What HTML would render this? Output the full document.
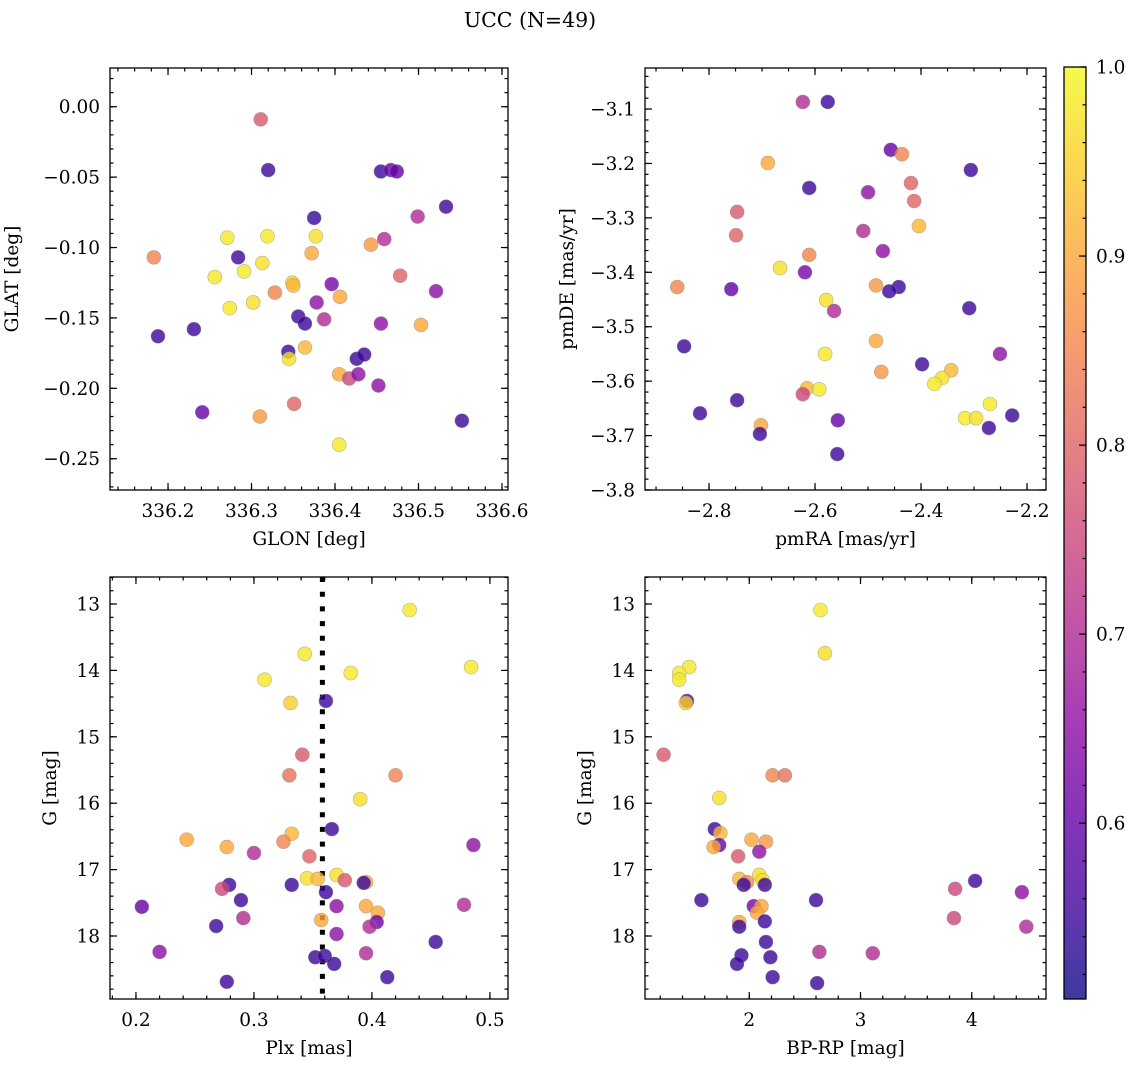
<!DOCTYPE html>
<html><head><meta charset="utf-8"><style>
html,body{margin:0;padding:0;background:#fff;}
svg text{font-family:"DejaVu Serif","Liberation Serif",serif;fill:#000;}
</style></head><body>
<svg id="fig" width="1136" height="1067" viewBox="0 0 1136 1067" xmlns="http://www.w3.org/2000/svg">
<defs>
<linearGradient id="plasma" x1="0" y1="1" x2="0" y2="0"></linearGradient>
</defs>
<text x="530" y="27" font-size="20.5" text-anchor="middle">UCC (N=49)</text>
</svg>
<script>
// ---------- data ----------
const p1Glon=[336.311,336.320,336.455,336.467,336.474,336.533,336.375,336.499,336.183,336.271,336.319,336.284,336.313,336.372,336.377,336.443,336.459,336.256,336.291,336.349,336.350,336.396,336.478,336.521,336.274,336.302,336.328,336.378,336.406,336.356,336.364,336.387,336.455,336.503,336.188,336.231,336.344,336.345,336.364,336.426,336.435,336.405,336.417,336.428,336.452,336.351,336.241,336.310,336.405,336.552];
const p1Glat=[-0.009,-0.045,-0.046,-0.045,-0.046,-0.071,-0.079,-0.078,-0.107,-0.093,-0.092,-0.107,-0.111,-0.104,-0.092,-0.098,-0.094,-0.121,-0.117,-0.125,-0.127,-0.126,-0.120,-0.131,-0.143,-0.139,-0.132,-0.139,-0.135,-0.149,-0.154,-0.151,-0.154,-0.155,-0.163,-0.158,-0.174,-0.179,-0.171,-0.179,-0.176,-0.190,-0.193,-0.190,-0.198,-0.211,-0.217,-0.220,-0.240,-0.223];
const p1Prob=[0.78,0.55,0.55,0.6,0.6,0.55,0.55,0.7,0.85,0.98,0.98,0.55,0.97,0.9,0.97,0.88,0.7,0.98,0.98,0.95,0.92,0.62,0.8,0.65,0.98,0.97,0.85,0.65,0.9,0.55,0.55,0.7,0.65,0.9,0.55,0.55,0.55,0.97,0.92,0.55,0.55,0.9,0.75,0.65,0.65,0.8,0.6,0.88,0.98,0.55];

const p2PmRA=[-2.623,-2.576,-2.457,-2.436,-2.689,-2.419,-2.306,-2.611,-2.500,-2.413,-2.747,-2.404,-2.509,-2.749,-2.611,-2.472,-2.666,-2.619,-2.860,-2.758,-2.485,-2.442,-2.460,-2.579,-2.564,-2.309,-2.847,-2.485,-2.581,-2.251,-2.398,-2.475,-2.343,-2.360,-2.375,-2.615,-2.592,-2.623,-2.817,-2.747,-2.270,-2.228,-2.557,-2.317,-2.296,-2.702,-2.704,-2.272,-2.558];
const p2PmDE=[-3.087,-3.087,-3.175,-3.183,-3.199,-3.236,-3.212,-3.245,-3.253,-3.269,-3.289,-3.315,-3.324,-3.332,-3.368,-3.361,-3.392,-3.400,-3.427,-3.431,-3.424,-3.427,-3.435,-3.451,-3.471,-3.466,-3.536,-3.526,-3.550,-3.550,-3.569,-3.583,-3.580,-3.594,-3.605,-3.613,-3.615,-3.624,-3.659,-3.635,-3.642,-3.663,-3.672,-3.668,-3.668,-3.681,-3.697,-3.686,-3.734];
const p2Prob=[0.7,0.55,0.6,0.85,0.9,0.8,0.55,0.55,0.65,0.8,0.78,0.92,0.7,0.8,0.85,0.65,0.97,0.62,0.85,0.6,0.88,0.55,0.55,0.97,0.7,0.55,0.55,0.9,0.98,0.65,0.55,0.88,0.92,0.97,0.98,0.92,0.98,0.75,0.55,0.55,0.98,0.55,0.6,0.98,0.97,0.9,0.55,0.55,0.55];

const p3Plx=[0.432,0.343,0.484,0.309,0.382,0.331,0.361,0.341,0.330,0.420,0.390,0.366,0.243,0.277,0.332,0.300,0.325,0.347,0.486,0.370,0.345,0.354,0.377,0.395,0.393,0.279,0.332,0.273,0.361,0.205,0.289,0.370,0.395,0.405,0.478,0.291,0.357,0.404,0.398,0.268,0.370,0.454,0.220,0.395,0.352,0.360,0.368,0.413,0.277];
const p3G=[13.09,13.75,13.95,14.14,14.04,14.49,14.46,15.27,15.58,15.58,15.94,16.39,16.55,16.66,16.46,16.75,16.58,16.80,16.63,17.08,17.13,17.14,17.16,17.19,17.20,17.23,17.23,17.29,17.34,17.56,17.46,17.55,17.55,17.65,17.53,17.73,17.76,17.79,17.86,17.85,17.97,18.09,18.24,18.26,18.32,18.30,18.42,18.62,18.69];
const p3Prob=[0.98,0.98,0.98,0.98,0.98,0.95,0.55,0.78,0.82,0.85,0.97,0.55,0.9,0.9,0.92,0.7,0.85,0.8,0.65,0.97,0.97,0.92,0.78,0.9,0.55,0.55,0.55,0.75,0.55,0.6,0.55,0.65,0.9,0.9,0.7,0.7,0.9,0.6,0.7,0.55,0.65,0.55,0.65,0.7,0.55,0.55,0.55,0.55,0.55];
const plxLine=0.358;

const p4BpRp=[2.64,2.68,1.46,1.37,1.37,1.44,1.43,1.23,2.21,2.32,1.73,1.69,1.74,1.73,1.68,2.02,2.15,2.09,1.90,1.91,2.09,2.12,1.98,1.95,2.14,4.03,3.85,4.45,1.57,2.04,2.11,2.07,2.60,1.91,2.14,3.84,4.49,1.91,2.15,2.63,3.11,1.93,2.19,1.89,2.21,2.61];
const p4G=[13.09,13.74,13.95,14.04,14.14,14.46,14.49,15.27,15.58,15.58,15.92,16.39,16.45,16.63,16.66,16.55,16.58,16.73,16.80,17.14,17.08,17.16,17.19,17.23,17.23,17.17,17.29,17.34,17.46,17.55,17.55,17.65,17.46,17.79,17.78,17.73,17.86,17.86,18.09,18.24,18.26,18.29,18.32,18.42,18.62,18.71];
const p4Prob=[0.98,0.97,0.98,0.98,0.98,0.55,0.95,0.78,0.85,0.82,0.97,0.55,0.92,0.6,0.9,0.9,0.88,0.65,0.78,0.92,0.97,0.97,0.85,0.55,0.55,0.55,0.75,0.65,0.55,0.62,0.9,0.9,0.55,0.9,0.55,0.75,0.7,0.55,0.55,0.7,0.7,0.55,0.55,0.55,0.55,0.55];

const cbarTicks=[0.6,0.7,0.8,0.9,1.0];
const cbarMin=0.507, cbarMax=1.0;

// ---------- helpers ----------
const NS='http://www.w3.org/2000/svg';
const svg=document.getElementById('fig');
const FS=18.5;
function mk(tag,attrs,parent){const e=document.createElementNS(NS,tag);for(const k in attrs)e.setAttribute(k,attrs[k]);(parent||svg).appendChild(e);return e;}
const stops=[[0,'#0d0887'],[0.1,'#41049d'],[0.2,'#6a00a8'],[0.3,'#8f0da4'],[0.4,'#b12a90'],[0.5,'#cc4778'],[0.6,'#e16462'],[0.7,'#f2844b'],[0.8,'#fca636'],[0.9,'#fcce25'],[1,'#f0f921']];
function hex(h){return [1,3,5].map(i=>parseInt(h.substr(i,2),16));}
function plasma(t){t=Math.max(0,Math.min(1,t));for(let i=1;i<stops.length;i++){if(t<=stops[i][0]){const a=stops[i-1],b=stops[i];const f=(t-a[0])/(b[0]-a[0]);const ca=hex(a[1]),cb=hex(b[1]);return 'rgb('+ca.map((v,j)=>Math.round(v+(cb[j]-v)*f)).join(',')+')';}}return stops[10][1];}
function cmap(p){return plasma((p-cbarMin)/(cbarMax-cbarMin));}
const grad=document.getElementById('plasma');
stops.forEach(s=>{mk('stop',{offset:s[0],'stop-color':s[1]},grad);});

function fmt(v,d){const s=Math.abs(v).toFixed(d);return (v<-1e-9?'\u2212':'')+s;}

function panel(o){
  const g=mk('g',{});
  
  
  const X=v=>o.x0+(v-o.xmin)/(o.xmax-o.xmin)*(o.x1-o.x0);
  const Y=o.yinv?(v=>o.y0+(v-o.ymin)/(o.ymax-o.ymin)*(o.y1-o.y0)):(v=>o.y1-(v-o.ymin)/(o.ymax-o.ymin)*(o.y1-o.y0));
  const tg=mk('g',{stroke:'#000','stroke-width':1.2},g);
  function ticksX(step,len){const s=Math.ceil(o.xmin/step-1e-9);for(let k=s;k*step<=o.xmax+1e-9;k++){const x=X(k*step);mk('line',{x1:x,x2:x,y1:o.y1,y2:o.y1-len},tg);mk('line',{x1:x,x2:x,y1:o.y0,y2:o.y0+len},tg);}}
  function ticksY(step,len){const s=Math.ceil(o.ymin/step-1e-9);for(let k=s;k*step<=o.ymax+1e-9;k++){const y=Y(k*step);mk('line',{x1:o.x0,x2:o.x0+len,y1:y,y2:y},tg);mk('line',{x1:o.x1,x2:o.x1-len,y1:y,y2:y},tg);}}
  ticksX(o.xminor,3.5);ticksX(o.xmajor,7);ticksY(o.yminor,3.5);ticksY(o.ymajor,7);
  o.xticks.forEach(v=>{const t=mk('text',{x:X(v),y:o.y1+27,'font-size':FS,'text-anchor':'middle'},g);t.textContent=fmt(v,o.xd);});
  o.yticks.forEach(v=>{const t=mk('text',{x:o.x0-10,y:Y(v)+6.5,'font-size':FS,'text-anchor':'end'},g);t.textContent=fmt(v,o.yd);});
  const xl=mk('text',{x:(o.x0+o.x1)/2,y:o.y1+55,'font-size':FS,'text-anchor':'middle'},g);
  xl.textContent=o.xlabel;
  const yx=o.x0-o.ylOff, yy=(o.y0+o.y1)/2;
  const yl=mk('text',{x:yx,y:yy,'font-size':FS,'text-anchor':'middle',transform:'rotate(-90 '+yx+' '+yy+')'},g);
  yl.textContent=o.ylabel;
  if(o.vline!==undefined){const l=mk('line',{x1:X(o.vline),x2:X(o.vline),y1:o.y0,y2:o.y1,stroke:'#000','stroke-width':5,'stroke-dasharray':'5 9.7'},g);}
  o.xs.forEach((xv,i)=>{const c=mk('circle',{cx:X(xv),cy:Y(o.ys[i]),r:7,fill:cmap(o.ps[i]),'fill-opacity':0.8,stroke:'#888','stroke-opacity':0.6,'stroke-width':0.6},g);
    });
  const f=mk('rect',{x:o.x0,y:o.y0,width:o.x1-o.x0,height:o.y1-o.y0,fill:'none',stroke:'#000','stroke-width':1.3},g);
  
}

panel({name:'glon-glat-panel',x0:110,x1:508,y0:68,y1:490,xmin:336.1305,xmax:336.6072,ymin:-0.2722,ymax:0.0275,
  xmajor:0.1,xminor:0.02,ymajor:0.05,yminor:0.01,xticks:[336.2,336.3,336.4,336.5,336.6],yticks:[0,-0.05,-0.1,-0.15,-0.2,-0.25],xd:1,yd:2,
  xlabel:'GLON [deg]',ylabel:'GLAT [deg]',ylOff:92,xs:p1Glon,ys:p1Glat,ps:p1Prob});
panel({name:'pm-panel',x0:645,x1:1046,y0:68,y1:490,xmin:-2.9208,xmax:-2.1642,ymin:-3.8,ymax:-3.0246,
  xmajor:0.2,xminor:0.05,ymajor:0.1,yminor:0.02,xticks:[-2.8,-2.6,-2.4,-2.2],yticks:[-3.1,-3.2,-3.3,-3.4,-3.5,-3.6,-3.7,-3.8],xd:1,yd:1,
  xlabel:'pmRA [mas/yr]',ylabel:'pmDE [mas/yr]',ylOff:72,xs:p2PmRA,ys:p2PmDE,ps:p2Prob});
panel({name:'plx-g-panel',x0:110,x1:508,y0:577,y1:999,xmin:0.178,xmax:0.5153,ymin:12.593,ymax:18.949,yinv:true,
  xmajor:0.1,xminor:0.02,ymajor:1,yminor:0.2,xticks:[0.2,0.3,0.4,0.5],yticks:[13,14,15,16,17,18],xd:1,yd:0,
  xlabel:'Plx [mas]',ylabel:'G [mag]',ylOff:54,xs:p3Plx,ys:p3G,ps:p3Prob,vline:plxLine});
panel({name:'cmd-panel',x0:645,x1:1046,y0:577,y1:999,xmin:1.063,xmax:4.667,ymin:12.593,ymax:18.949,yinv:true,
  xmajor:1,xminor:0.2,ymajor:1,yminor:0.2,xticks:[2,3,4],yticks:[13,14,15,16,17,18],xd:0,yd:0,
  xlabel:'BP-RP [mag]',ylabel:'G [mag]',ylOff:54,xs:p4BpRp,ys:p4G,ps:p4Prob});

// colorbar
const cb=mk('g',{});


const cx0=1064,cx1=1086,cy0=67,cy1=999;
mk('rect',{x:cx0,y:cy0,width:cx1-cx0,height:cy1-cy0,fill:'url(#plasma)','fill-opacity':0.8},cb);
const CY=v=>cy1-(v-cbarMin)/(cbarMax-cbarMin)*(cy1-cy0);
for(let k=Math.ceil(cbarMin/0.02);k*0.02<=cbarMax+1e-9;k++){const y=CY(k*0.02);mk('line',{x1:cx1,x2:cx1-3.5,y1:y,y2:y,stroke:'#000','stroke-width':1.2},cb);}
cbarTicks.forEach(v=>{const y=CY(v);mk('line',{x1:cx1,x2:cx1-7,y1:y,y2:y,stroke:'#000','stroke-width':1.2},cb);
  const t=mk('text',{x:cx1+10,y:y+6.5,'font-size':FS},cb);t.textContent=v.toFixed(1);});
mk('rect',{x:cx0,y:cy0,width:cx1-cx0,height:cy1-cy0,fill:'none',stroke:'#000','stroke-width':1.3},cb);
</script>
</body></html>
